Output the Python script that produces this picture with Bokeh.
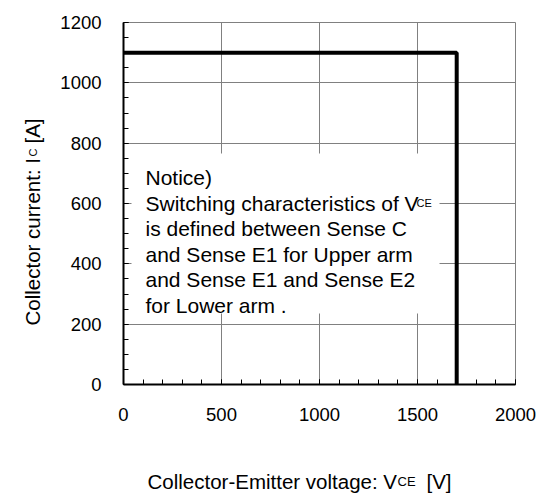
from math import pi
from bokeh.plotting import figure
from bokeh.models import SingleIntervalTicker, Range1d, BoxAnnotation, Label, Grid
from bokeh.embed import file_html
from bokeh.resources import INLINE

# ---- data ----
soa_voltage = [0, 1700, 1700]      # V_CE [V]
soa_current = [1100, 1100, 0]      # I_C [A]
x_max = 2000
y_max = 1200
x_tick_interval = 500
y_tick_interval = 200
x_ticks = [0, 500, 1000, 1500, 2000]
y_ticks = [0, 200, 400, 600, 800, 1000, 1200]
notice_lines = [
    "Notice)",
    "Switching characteristics of V",
    "is defined between Sense C",
    "and Sense E1 for Upper arm",
    "and Sense E1 and Sense E2",
    "for Lower arm .",
]

FONT = "Liberation Sans"
W, H = 542, 493
# pixel positions of the data area (frame covers the whole canvas, axes fixed at 0)
PX0, PX1 = 123, 515    # x = 0 and x = x_max
PY0, PY1 = 384, 22     # y = 0 and y = y_max
sx = x_max / (PX1 - PX0)
sy = y_max / (PY0 - PY1)


def xd(px):
    return (px - PX0) * sx


def yd(py):
    return (PY0 - py) * sy


p = figure(width=W, height=H, output_backend="svg", toolbar_location=None,
           x_range=Range1d(xd(0), xd(W)), y_range=Range1d(yd(H), yd(0)),
           min_border_left=0, min_border_right=0, min_border_top=0, min_border_bottom=0)
p.background_fill_color = "white"
p.border_fill_color = "white"
p.outline_line_color = None

p.xaxis.ticker = SingleIntervalTicker(interval=x_tick_interval, num_minor_ticks=5)
p.yaxis.ticker = SingleIntervalTicker(interval=y_tick_interval, num_minor_ticks=4)
p.xaxis.fixed_location = 0
p.yaxis.fixed_location = 0
p.xaxis.bounds = (0, x_max)
p.yaxis.bounds = (0, y_max)
for ax in (p.xaxis, p.yaxis):
    ax.axis_line_color = "black"
    ax.axis_line_width = 2
    ax.major_tick_in = 5
    ax.major_tick_out = 0
    ax.major_tick_line_color = "black"
    ax.minor_tick_in = 5
    ax.minor_tick_out = 0
    ax.minor_tick_line_color = "black"
    ax.major_label_text_font = FONT
    ax.major_label_text_font_size = "18.5px"
    ax.major_label_text_color = "black"
    ax.axis_label = None
p.xaxis.major_label_standoff = 23
p.yaxis.major_label_standoff = 22

if "cross_bounds" in Grid.properties():
    p.xgrid.bounds = (0, x_max)
    p.xgrid.cross_bounds = (0, y_max)
    p.ygrid.bounds = (0, y_max)
    p.ygrid.cross_bounds = (0, x_max)
    for g in (p.xgrid, p.ygrid):
        g.grid_line_color = "#808080"
        g.grid_line_width = 1
else:
    p.xgrid.visible = False
    p.ygrid.visible = False
    p.segment(x0=x_ticks, y0=[0] * len(x_ticks), x1=x_ticks, y1=[y_max] * len(x_ticks),
              line_color="#808080", line_width=1)
    p.segment(x0=[0] * len(y_ticks), y0=y_ticks, x1=[x_max] * len(y_ticks), y1=y_ticks,
              line_color="#808080", line_width=1)

p.line(soa_voltage, soa_current, line_color="black", line_width=4)

# notice box
p.add_layout(BoxAnnotation(left=xd(131), right=xd(439), bottom=yd(313), top=yd(153),
                           fill_color="white", fill_alpha=1, line_color=None))

baselines = [177, 202.5, 228, 253.5, 279, 304.5]
for txt, b in zip(notice_lines, baselines):
    p.add_layout(Label(x=xd(145), y=yd(b), text=txt, text_font=FONT, text_font_size="21px",
                       text_color="black", text_align="left", text_baseline="alphabetic"))
p.add_layout(Label(x=xd(416), y=yd(202.5), text="CE", text_font=FONT, text_font_size="11px",
                   text_color="black", text_align="left", text_baseline="alphabetic"))

# x axis label
xb = 481
p.add_layout(Label(x=xd(147), y=yd(xb), text="Collector-Emitter voltage: V", text_font=FONT,
                   text_font_size="20.5px", text_color="black", text_align="left",
                   text_baseline="alphabetic"))
p.add_layout(Label(x=xd(397), y=yd(xb), text="CE", text_font=FONT, text_font_size="13px",
                   text_color="black", text_align="left", text_baseline="alphabetic"))
p.add_layout(Label(x=xd(426), y=yd(xb), text="[V]", text_font=FONT, text_font_size="20.5px",
                   text_color="black", text_align="left", text_baseline="alphabetic"))

# y axis label (rotated)
yb = 32
p.add_layout(Label(x=xd(yb), y=yd(325), text="Collector current: I", text_font=FONT,
                   text_font_size="20.5px", text_color="black", text_align="left",
                   text_baseline="alphabetic", angle=pi / 2))
p.add_layout(Label(x=xd(yb), y=yd(156), text="C", text_font=FONT, text_font_size="11px",
                   text_color="black", text_align="left", text_baseline="alphabetic",
                   angle=pi / 2))
p.add_layout(Label(x=xd(yb), y=yd(143), text="[A]", text_font=FONT, text_font_size="20.5px",
                   text_color="black", text_align="left", text_baseline="alphabetic",
                   angle=pi / 2))

open("out.html", "w").write(file_html(p, INLINE))
